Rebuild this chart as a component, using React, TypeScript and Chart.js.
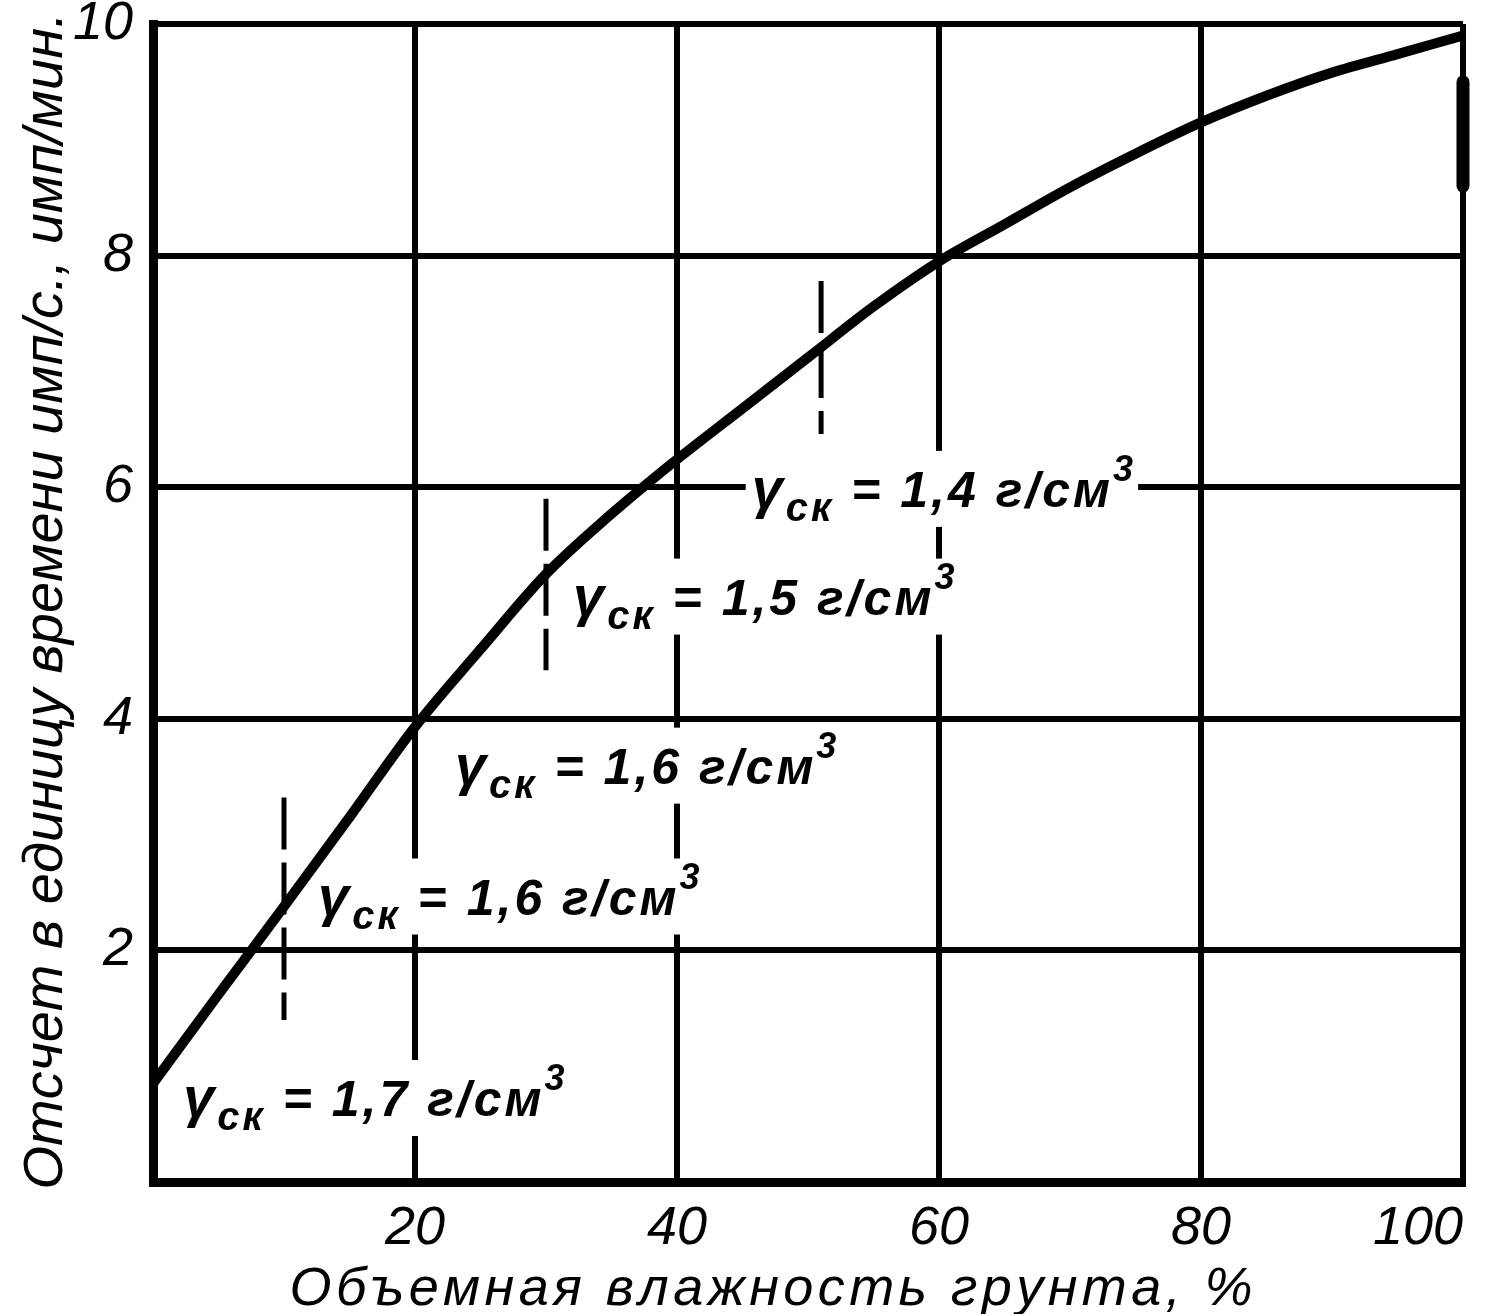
import { useEffect, useRef } from 'react';
import { Chart, registerables } from 'chart.js';

Chart.register(...registerables);

// Volumetric soil moisture, % (x) and count rate (y)
const moisture = [0, 5, 10, 15, 20, 25, 30, 35, 37.5, 40, 45, 50, 55, 60, 65, 70, 75, 80, 85, 90, 95, 100];
const counts = [0.85, 1.62, 2.38, 3.15, 3.93, 4.6, 5.25, 5.77, 6.01, 6.24, 6.68, 7.12, 7.56, 7.95, 8.27, 8.59, 8.88, 9.15, 9.38, 9.58, 9.74, 9.9];

// Dashed density boundaries
const markerX = [10, 30, 51];
const markerTop = [3.32, 5.9, 7.78];
const markerBottom = [1.4, 4.42, 6.46];

// Short thick mark at the right edge
const edgeMarkX = [100, 100];
const edgeMarkY = [9.5, 8.6];

// Density annotations (γск values) and their anchor points in data units
const densityValues = ['1,7', '1,6', '1,6', '1,5', '1,4'];
const densityX = [2.3, 12.6, 23.05, 32.06, 45.7];
const densityY = [0.57, 2.31, 3.44, 4.9, 5.83];

const xTickValues = [0, 20, 40, 60, 80, 100];
const yTickValues = [0, 2, 4, 6, 8, 10];

const xTitle = 'Объемная влажность грунта, %';
const yTitle = 'Отсчет в единицу времени имп/с., имп/мин.';

const FONT = "'Liberation Sans', 'DejaVu Sans', sans-serif";

function drawSpaced(ctx: CanvasRenderingContext2D, text: string, cx: number, cy: number, target: number) {
  const chars = Array.from(text);
  const widths = chars.map((c) => ctx.measureText(c).width);
  const total = widths.reduce((a, b) => a + b, 0);
  const gap = (target - total) / (chars.length - 1);
  let x = cx - target / 2;
  ctx.textAlign = 'left';
  chars.forEach((c, i) => {
    ctx.fillText(c, x, cy);
    x += widths[i] + gap;
  });
}

function drawDensityLabel(ctx: CanvasRenderingContext2D, x: number, y: number, value: string) {
  const spacing = 3;
  const parts = [
    { t: 'γ', size: 56, dy: 0 },
    { t: 'ск', size: 40, dy: 14 },
    { t: ' = ' + value + ' г/см', size: 50, dy: 0 },
    { t: '3', size: 36, dy: -26 },
  ];
  let w = 0;
  const measured = parts.map((p) => {
    ctx.font = `italic bold ${p.size}px ${FONT}`;
    const ws = Array.from(p.t).map((c) => ctx.measureText(c).width);
    w += ws.reduce((a, b) => a + b, 0) + spacing * ws.length;
    return ws;
  });
  ctx.fillStyle = '#fff';
  ctx.fillRect(x - 6, y - 56, w + 8, 76);
  ctx.fillStyle = '#000';
  ctx.textAlign = 'left';
  ctx.textBaseline = 'alphabetic';
  let cx = x;
  parts.forEach((p, i) => {
    ctx.font = `italic bold ${p.size}px ${FONT}`;
    Array.from(p.t).forEach((c, j) => {
      ctx.fillText(c, cx, y + p.dy);
      cx += measured[i][j] + spacing;
    });
  });
}

const annotationPlugin = {
  id: 'annotations',
  beforeDatasetsDraw(chart: any) {
    const { ctx, scales } = chart;
    ctx.save();
    densityValues.forEach((v, i) => {
      const px = scales.x.getPixelForValue(densityX[i]);
      const py = scales.y.getPixelForValue(densityY[i]);
      drawDensityLabel(ctx, px, py, v);
    });
    ctx.restore();
  },
  afterDraw(chart: any) {
    const { ctx } = chart;
    ctx.save();
    ctx.fillStyle = '#000';
    ctx.textBaseline = 'alphabetic';
    // x title
    ctx.font = `italic 54px ${FONT}`;
    drawSpaced(ctx, xTitle, 771, 1305, 963);
    // y title
    ctx.translate(62, 601);
    ctx.rotate(-Math.PI / 2);
    ctx.font = `italic 56px ${FONT}`;
    drawSpaced(ctx, yTitle, 0, 0, 1177);
    ctx.restore();
  },
};

export default function App() {
  const ref = useRef<HTMLCanvasElement>(null);

  useEffect(() => {
    if (!ref.current) return;
    const tickFont = { family: FONT, size: 54, style: 'italic' as const, lineHeight: 1 };
    const datasets: any[] = [
      {
        data: moisture.map((m, i) => ({ x: m, y: counts[i] })),
        borderColor: '#000',
        borderWidth: 10,
        pointRadius: 0,
        cubicInterpolationMode: 'monotone',
        fill: false,
      },
      ...markerX.map((mx, i) => ({
        data: [
          { x: mx, y: markerTop[i] },
          { x: mx, y: markerBottom[i] },
        ],
        borderColor: '#000',
        borderWidth: 5,
        borderDash: [52, 13],
        pointRadius: 0,
        fill: false,
      })),
      {
        data: edgeMarkX.map((x, i) => ({ x, y: edgeMarkY[i] })),
        borderColor: '#000',
        borderWidth: 13,
        borderCapStyle: 'round',
        pointRadius: 0,
        fill: false,
        clip: false,
      },
    ];
    const chart = new Chart(ref.current, {
      type: 'line',
      data: { datasets },
      plugins: [annotationPlugin],
      options: {
        animation: false,
        responsive: false,
        devicePixelRatio: 1,
        layout: { padding: { top: 24, right: 25, left: 0, bottom: 0 } },
        plugins: { legend: { display: false }, tooltip: { enabled: false } },
        scales: {
          x: {
            type: 'linear',
            min: 0,
            max: 100,
            afterBuildTicks: (s: any) => {
              s.ticks = xTickValues.map((v) => ({ value: v }));
            },
            ticks: {
              callback: (v: any) => (v === 0 ? '' : String(v)),
              font: tickFont,
              color: '#000',
              padding: 20,
              align: 'inner',
              maxRotation: 0,
              autoSkip: false,
            },
            grid: { color: '#000', lineWidth: 6, drawTicks: false },
            border: { color: '#000', width: 9 },
            afterFit: (s: any) => {
              s.height = 132;
              s.paddingLeft = 0;
              s.paddingRight = 0;
            },
          },
          y: {
            type: 'linear',
            min: 0,
            max: 10,
            afterBuildTicks: (s: any) => {
              s.ticks = yTickValues.map((v) => ({ value: v }));
            },
            ticks: {
              callback: (v: any) => (v === 0 ? '' : String(v)),
              font: tickFont,
              color: '#000',
              padding: 20,
              autoSkip: false,
            },
            grid: { color: '#000', lineWidth: 6, drawTicks: false },
            border: { color: '#000', width: 9 },
            afterFit: (s: any) => {
              s.width = 153;
              s.paddingTop = 0;
              s.paddingBottom = 0;
            },
          },
        },
      } as any,
    });
    return () => chart.destroy();
  }, []);

  return (
    <div style={{ position: 'fixed', left: 0, top: 0, width: 1488, height: 1314, background: '#fff' }}>
      <canvas ref={ref} width={1488} height={1314} style={{ display: 'block', width: 1488, height: 1314 }} />
    </div>
  );
}
